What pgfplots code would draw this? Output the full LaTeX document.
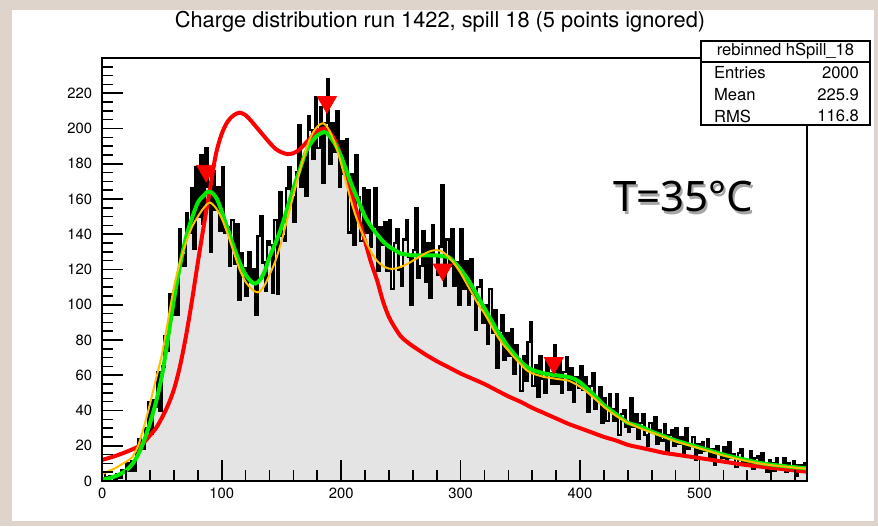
\documentclass[border=0pt]{standalone}
\usepackage{pgfplots}
\pgfplotsset{compat=1.18}
\usepackage{pgfplotstable}
\usepackage{fontspec}
\setmainfont{TeX Gyre Heros}
\newfontfamily\tempfont{Noto Sans}
\definecolor{marble}{RGB}{222,212,204}
\definecolor{histfill}{RGB}{228,228,228}
\definecolor{rootgreen}{RGB}{0,235,0}
\definecolor{rootorange}{RGB}{255,190,0}

\pgfplotstableread{
x y
0 5
2 2
4 1
6 3
8 2
10 1
12 4
14 2
16 6
18 5
20 10
22 6
24 11
26 6
28 17
30 24
32 19
34 18
36 30
38 45
40 27
42 46
44 42
46 62
48 40
50 65
52 82
54 74
56 106
58 94
60 110
62 94
64 143
66 128
68 122
70 152
72 141
74 166
76 132
78 178
80 150
82 185
84 146
86 189
88 167
90 130
92 176
94 154
96 167
98 142
100 178
102 141
104 144
106 122
108 148
110 123
112 146
114 103
116 129
118 121
120 105
122 130
124 113
126 120
128 94
130 139
132 150
134 124
136 108
138 136
140 134
142 107
144 148
146 106
148 164
150 139
152 136
154 166
156 178
158 161
160 147
162 175
164 202
166 167
168 184
170 162
172 207
174 199
176 183
178 218
180 189
182 212
184 169
186 203
188 228
190 180
192 203
194 187
196 210
198 167
200 193
202 174
204 194
206 141
208 174
210 134
212 185
214 161
216 136
218 166
220 141
222 165
224 133
226 144
228 166
230 119
232 144
234 134
236 147
238 119
240 148
242 109
244 135
246 143
248 120
250 111
252 137
254 148
256 127
258 100
260 131
262 155
264 115
266 122
268 142
270 113
272 135
274 104
276 145
278 128
280 117
282 133
284 168
286 111
288 137
290 122
292 143
294 111
296 124
298 100
300 143
302 109
304 125
306 100
308 126
310 106
312 86
314 110
316 114
318 90
320 100
322 78
324 109
326 84
328 97
330 64
332 85
334 94
336 69
338 84
340 71
342 86
344 61
346 77
348 69
350 51
352 71
354 57
356 79
358 90
360 54
362 66
364 48
366 71
368 58
370 50
372 68
374 61
376 55
378 77
380 55
382 68
384 50
386 62
388 70
390 52
392 64
394 45
396 59
398 53
400 65
402 52
404 59
406 39
408 54
410 61
412 41
414 46
416 53
418 33
420 47
422 34
424 49
426 41
428 34
430 49
432 26
434 38
436 40
438 31
440 28
442 47
444 31
446 38
448 24
450 33
452 38
454 26
456 20
458 33
460 29
462 36
464 21
466 29
468 23
470 32
472 17
474 26
476 29
478 20
480 30
482 21
484 25
486 16
488 30
490 18
492 21
494 25
496 12
498 21
500 16
502 22
504 17
506 24
508 13
510 18
512 9
514 20
516 16
518 13
520 19
522 11
524 22
526 13
528 15
530 8
532 16
534 18
536 9
538 12
540 10
542 17
544 7
546 13
548 14
550 8
552 16
554 9
556 5
558 12
560 10
562 6
564 13
566 7
568 9
570 13
572 5
574 10
576 6
578 11
580 3
582 9
584 5
586 9
588 10
590 10
}\histdata

\begin{document}
\begin{tikzpicture}[x=1pt,y=1pt]
\fill[marble] (0,0) rectangle (439,263);
\fill[white] (6,2.5) rectangle (437,258);
\begin{axis}[
  at={(51.15pt,22.5pt)}, anchor=south west,
  scale only axis, width=352.35pt, height=211.5pt,
  xmin=0, xmax=590, ymin=0, ymax=240,
  axis on top,
  axis line style={line width=0.9pt},
  tick align=inside, tick pos=left,
  xtick={0,100,...,500}, ytick={0,20,...,220},
  minor xtick={20,40,...,580}, minor ytick={5,10,...,235},
  major tick length=10.5pt, minor tick length=5.3pt,
  every tick/.style={black, line width=0.8pt},
  ticklabel style={font=\fontsize{7.4}{8}\selectfont},
  yticklabel style={xshift=-1.6pt},
  /pgf/number format/assume math mode=true,
]
\addplot[const plot, fill=histfill, draw=none, forget plot] table[x=x,y=y]{\histdata} \closedcycle;
\addplot[const plot, black, line width=1.15pt] table[x=x,y=y]{\histdata};
% red fit
\addplot[red, line width=2pt, smooth] coordinates {
(0,12) (10,14) (20,16.5) (30,19.5) (35,22) (40,26) (45,30) (50,36) (55,43) (60,52) (65,65) (70,82) (75,102) (80,124) (85,145) (90,165) (95,185) (100,197) (105,204) (110,207.5) (115,209) (120,207.5) (125,204) (130,200) (135,196) (140,192) (145,188.5) (150,186.5) (155,185.5) (160,186) (165,188) (170,191.5) (175,195) (180,198.5) (186,200) (190,198) (195,193) (200,184) (205,173) (210,160) (215,148) (220,136) (225,124) (230,114) (235,102) (240,93) (245,87) (250,82) (255,79) (260,76.5) (270,72) (280,68) (290,64.5) (300,61) (310,58) (320,55) (330,51.5) (340,48) (350,45) (360,41.5) (370,38.5) (380,35.5) (390,32.5) (400,30) (410,27.5) (420,25) (430,23) (440,20.5) (450,19) (460,17.5) (470,16) (480,15) (490,14) (500,13) (520,11) (540,9) (560,7.5) (580,6) (590,5.3)
};
% green fit
\addplot[rootgreen, line width=2pt, smooth] coordinates {
(0,1) (5,1.5) (10,2.5) (15,4) (20,6) (25,9.5) (30,15) (35,23) (40,33) (45,45) (50,60) (55,81) (60,103) (65,122) (70,138) (75,149) (80,158) (85,162) (88,164) (92,163.5) (96,160) (100,153) (105,143) (110,133) (115,124) (120,117) (125,113) (128,112) (132,114) (136,119) (140,127) (145,135) (150,144) (155,155) (160,166) (165,176) (170,186) (175,192) (180,196) (186,198) (190,196) (195,191) (200,184) (205,175) (210,166) (215,158) (220,150) (225,144.5) (230,140) (235,136) (240,133) (245,131) (250,129) (255,128.5) (260,128) (270,128) (280,128) (285,127.5) (290,127) (295,124) (300,120) (305,115.5) (310,110) (315,104) (320,98) (325,92) (330,86) (335,81) (340,76) (345,72) (350,68) (355,65) (360,63) (365,62) (370,61) (380,60) (390,59) (395,58) (400,56) (405,53) (410,50) (415,46.5) (420,43) (425,40.5) (430,38) (435,35.5) (440,33) (450,31) (460,28) (470,25.5) (480,23) (490,21) (500,19) (510,17) (520,15) (530,13.3) (540,11.8) (550,10.3) (560,9.3) (570,8.5) (580,7.8) (590,7.2)
};
% orange fit
\addplot[rootorange, line width=1pt, smooth] coordinates {
(0,4) (5,5.5) (10,7) (15,9) (20,11) (25,13.5) (30,20) (35,31) (40,44) (45,58) (50,72) (55,91) (60,110) (65,124) (70,135) (75,144) (80,150) (85,155) (90,158) (95,155) (100,149) (105,140) (110,130) (115,120) (120,113) (125,109) (130,107) (135,110) (140,117) (145,125) (150,136) (155,149) (160,162) (165,175) (170,187) (175,196) (180,201) (185,203) (190,199) (195,191) (200,180) (205,167) (210,155) (215,145) (220,137) (225,130) (230,125) (235,122) (240,120.5) (245,120.5) (250,121.5) (255,123) (260,125) (265,127) (270,129) (275,130.5) (280,131) (285,130) (290,127) (295,123) (300,118) (305,112) (310,106) (315,100) (320,95) (325,89) (330,83) (335,78) (340,74) (345,70) (350,66.5) (355,63) (360,61) (365,60) (370,59) (375,58.5) (380,58) (385,57.5) (390,57) (395,55.5) (400,53.5) (405,51) (410,48) (415,45) (420,42) (425,39.5) (430,37) (435,35) (440,33) (450,30) (460,27.5) (470,25) (480,22.5) (490,20.5) (500,18.5) (510,16.5) (520,14.5) (530,12.8) (540,11.3) (550,10) (560,9) (570,8.3) (580,7.6) (590,7)
};
% peak markers
\addplot[only marks, mark=triangle*, mark size=5.5pt, mark options={rotate=180, fill=red, draw=red}] coordinates {(87,176) (188,215) (285,120) (378,67)};
\end{axis}
% title
\node[font=\fontsize{10.9}{12}\selectfont] at (220,252) {Charge distribution run 1422, spill 18 (5 points ignored)};
% stats box
\draw[fill=white, line width=0.7pt] (350.5,200.5) rectangle (435,242.5);
\draw[line width=0.7pt] (350.5,232) -- (435,232);
\node[font=\fontsize{8.3}{9}\selectfont] at (392.75,237.2) {rebinned hSpill\_18};
\node[font=\fontsize{8.3}{9}\selectfont, anchor=west] at (353.5,226.5) {Entries};
\node[font=\fontsize{8.3}{9}\selectfont, anchor=east] at (433,226.5) {2000};
\node[font=\fontsize{8.3}{9}\selectfont, anchor=west] at (353.5,215.5) {Mean};
\node[font=\fontsize{8.3}{9}\selectfont, anchor=east] at (433,215.5) {225.9};
\node[font=\fontsize{8.3}{9}\selectfont, anchor=west] at (353.5,205) {RMS};
\node[font=\fontsize{8.3}{9}\selectfont, anchor=east] at (433,205) {116.8};
% temperature label
\node[font=\tempfont\fontsize{21}{24}\selectfont, text=black!35] at (342.6,163.4) {T=35°C};
\node[font=\tempfont\fontsize{21}{24}\selectfont] at (341.5,164.5) {T=35°C};
\end{tikzpicture}
\end{document}
